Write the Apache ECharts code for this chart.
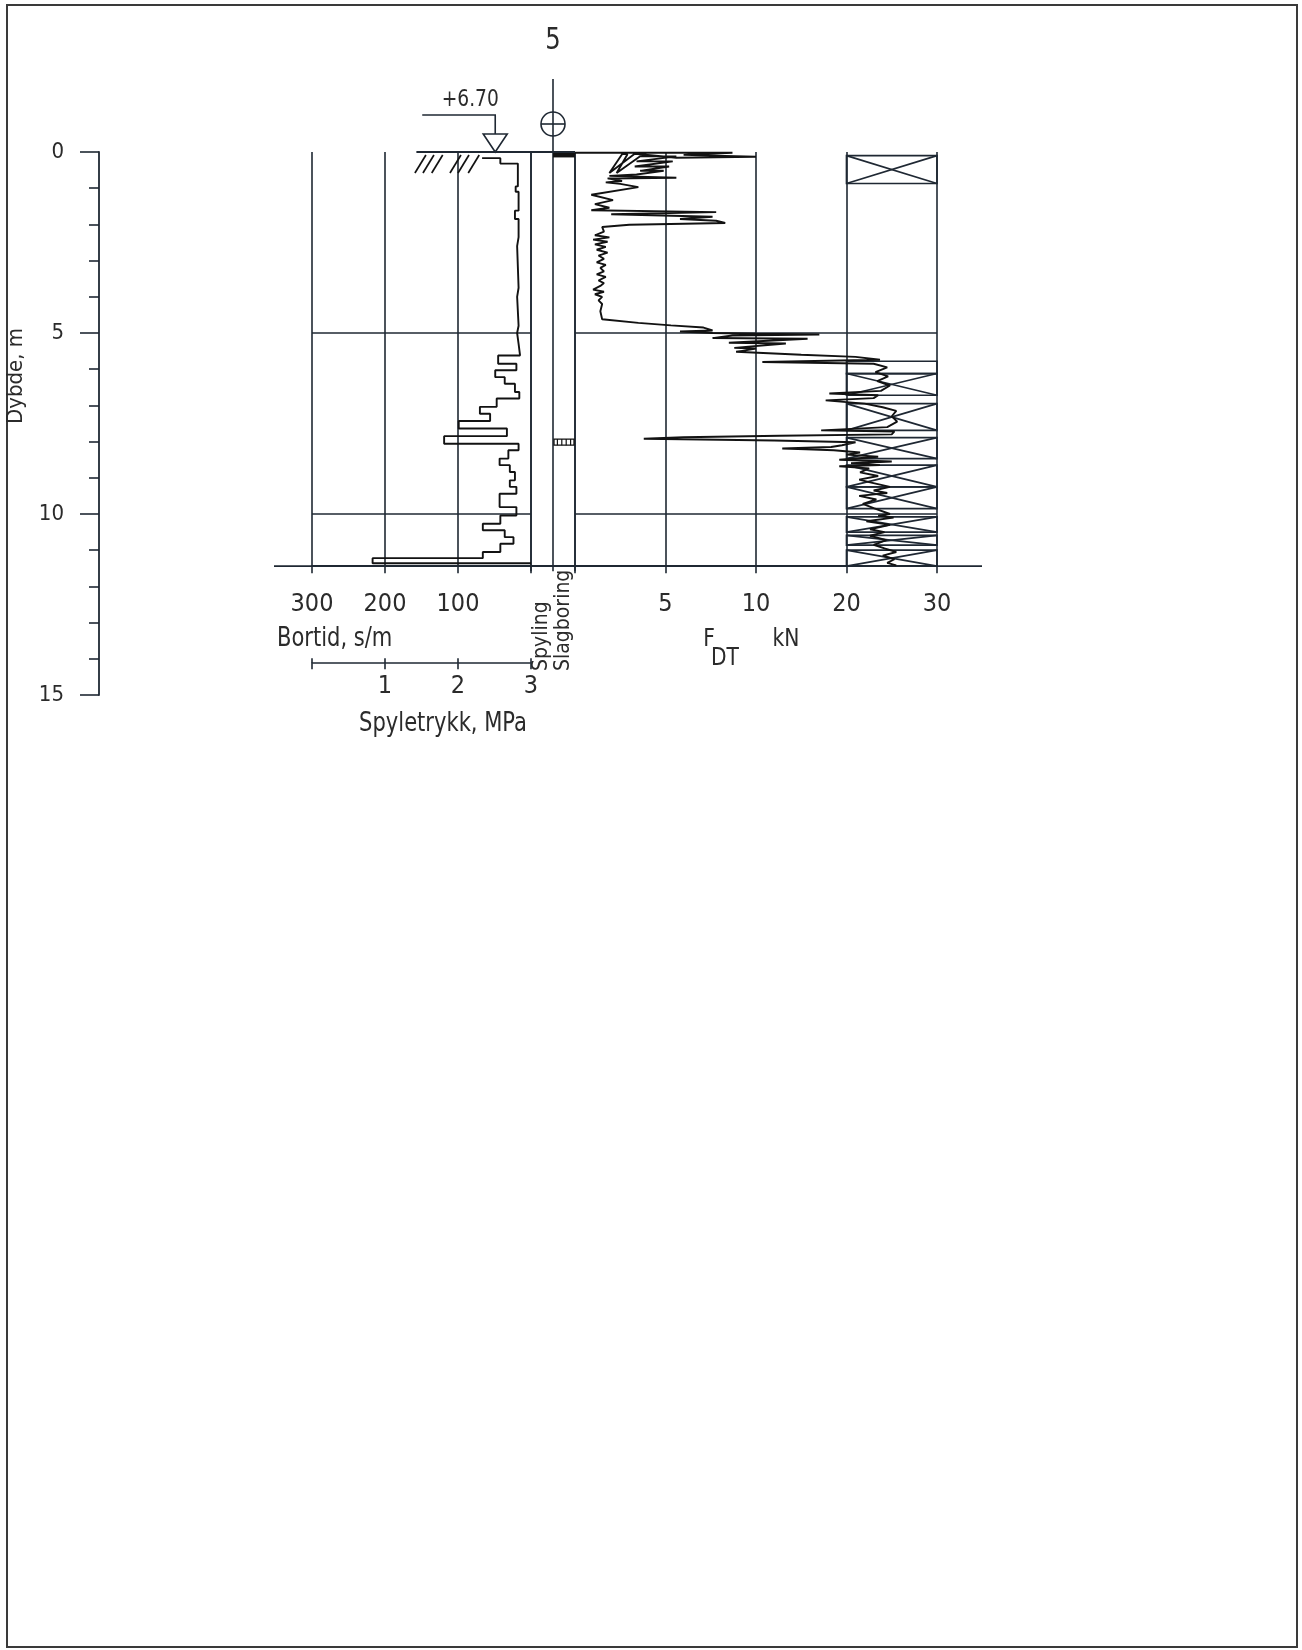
<!DOCTYPE html>
<html>
<head>
<meta charset="utf-8">
<title>Totalsondering 5</title>
<script src="https://cdn.jsdelivr.net/npm/echarts@6.0.0/dist/echarts.min.js"></script>
<style>
  html, body { margin: 0; padding: 0; background: #fff; }
  #chart { width: 1302px; height: 1650px; }
</style>
</head>
<body>
<div id="chart"></div>
<script>
const FONT = "'Liberation Sans Narrow', 'DejaVu Sans Condensed', 'Liberation Sans', sans-serif"
const INK = '#1f2833'
const PEN = '#121212'
const TXT = '#2b2b2b'

const BOREHOLE = '5'
const ELEVATION = '+6.70'
const END_DEPTH = 11.44
const DEPTH_MAX = 15
const DEPTH_GRID = [5, 10]
const GROUND_FROM = 157
const WATER_MARK_AT = 49
const TERRAIN_TICKS = [159, 148, 136, 111, 100, 86]
const COLUMN_FROM = 20
const COLUMN_TO = 30

// bortid (s/m), step curve: value holds from this depth to the next
const bortidDepth = [0.17, 0.17, 0.32, 0.95, 1.10, 1.62, 1.85, 2.35, 2.60, 3.75, 4.00, 4.80, 5.00, 5.30, 5.62,
  5.85, 6.03, 6.22, 6.40, 6.63, 6.81, 7.04, 7.23, 7.43, 7.64, 7.85, 8.06, 8.24, 8.47, 8.65,
  8.84, 9.07, 9.25, 9.44, 9.81, 10.04, 10.27, 10.45, 10.64, 10.82, 11.05, 11.22, 11.36]
const bortidValue = [67, 42, 18, 21, 17, 22, 17, 19, 17, 19, 17, 19, 17, 15, 45,
  20, 49, 36, 22, 16, 47, 70, 56, 99, 33, 119, 17, 31, 43, 29,
  22, 29, 20, 43, 20, 42, 66, 36, 24, 42, 66, 217, 0]

// slagboring column: [from, to, kind] kind 1 = filled, 2 = hatched
const slagboring = [[0, 0.15, 1], [7.93, 8.10, 2]]

// 20-30 kN column boxes
const boxTop = [0.10, 5.78, 6.12, 6.95, 7.89, 8.65, 9.25, 10.08, 10.59, 11.00]
const boxBottom = [0.87, 6.12, 6.72, 7.69, 8.47, 9.25, 9.85, 10.50, 10.86, 11.44]
const boxCross = [1, 0, 1, 1, 1, 1, 1, 1, 1, 1]

// F_DT trace [kN, depth]
const fdtTrace = [
  [0, 0.02], [8.7, 0.02], [6.0, 0.08], [10.0, 0.13], [5.6, 0.16],
  [3.3, 0.05], [1.9, 0.58], [2.6, 0.06], [2.9, 0.06], [2.3, 0.58],
  [3.6, 0.12], [5.6, 0.12], [3.4, 0.26], [5.4, 0.26], [3.3, 0.40], [5.2, 0.40], [3.6, 0.52], [4.9, 0.52],
  [3.4, 0.62], [1.9, 0.66], [5.6, 0.71], [1.8, 0.73],
  [2.6, 0.80], [1.7, 0.84], [2.5, 0.88], [3.5, 0.97], [0.9, 1.18], [2.1, 1.33], [1.1, 1.44], [1.9, 1.54],
  [0.9, 1.61], [7.8, 1.66], [2.0, 1.72], [7.6, 1.79], [5.8, 1.85], [7.8, 1.90], [8.3, 1.96], [3.0, 2.01],
  [1.5, 2.07], [1.6, 2.20],
  [1.1, 2.30], [1.9, 2.36], [1.0, 2.42], [1.8, 2.48], [1.1, 2.55], [1.7, 2.62], [1.2, 2.70], [1.8, 2.78],
  [1.3, 2.86], [1.6, 2.95], [1.2, 3.05], [1.7, 3.12], [1.4, 3.20], [1.6, 3.30], [1.2, 3.38], [1.7, 3.45],
  [1.3, 3.55], [1.6, 3.62], [1.4, 3.70], [1.0, 3.80], [1.6, 3.86], [1.1, 3.93], [1.5, 4.00], [1.3, 4.10],
  [1.5, 4.20], [1.4, 4.40], [1.5, 4.62],
  [3.5, 4.72], [5.3, 4.79], [7.1, 4.85], [7.6, 4.93], [5.8, 4.96], [7.6, 5.00], [10.0, 5.02], [17.0, 5.04],
  [8.7, 5.07], [7.6, 5.14], [15.7, 5.16], [8.5, 5.27], [13.3, 5.29], [8.8, 5.41], [10.0, 5.43], [8.9, 5.52],
  [15.0, 5.60], [21.0, 5.66], [23.7, 5.74], [10.7, 5.80], [23.0, 5.85],
  [24.5, 5.95], [23.2, 6.08], [24.6, 6.20], [23.4, 6.33], [24.8, 6.45], [23.8, 6.60], [18.1, 6.67], [23.5, 6.72],
  [23.0, 6.80], [17.7, 6.86], [22.0, 6.95], [24.0, 7.05], [25.5, 7.15], [25.0, 7.30], [25.6, 7.45], [24.5, 7.60],
  [17.2, 7.69], [25.3, 7.72], [25.0, 7.80], [12.6, 7.84], [6.0, 7.88], [3.8, 7.92], [8.0, 7.95], [12.0, 7.97],
  [21.0, 8.02], [19.5, 8.10], [18.3, 8.15], [12.9, 8.19], [15.5, 8.21], [18.6, 8.24], [21.5, 8.30], [20.0, 8.36],
  [23.5, 8.42], [19.2, 8.50], [25.0, 8.55], [20.5, 8.60], [23.7, 8.65], [19.2, 8.68], [22.5, 8.74], [21.5, 8.85],
  [23.5, 8.95], [21.4, 9.05], [22.5, 9.12], [24.8, 9.25], [23.0, 9.35], [24.5, 9.42], [21.4, 9.50], [23.3, 9.60],
  [21.8, 9.72], [23.0, 9.84], [24.8, 10.00], [23.5, 10.05], [25.2, 10.10], [22.2, 10.20], [24.8, 10.30],
  [22.6, 10.42], [24.2, 10.50], [22.6, 10.60], [24.4, 10.72], [23.0, 10.85], [24.2, 10.95], [25.5, 11.05],
  [24.0, 11.15], [25.3, 11.25], [24.5, 11.35], [25.5, 11.42]
]

// force axis: 0-10 kN full scale, above 10 kN half scale
function fdtScale(kn) { return kn <= 10 ? kn : 10 + (kn - 10) / 2 }
function fdtLabel(u) { return u <= 10 ? u : 10 + (u - 10) * 2 }

let bortidLine = []
for (let i = 0; i < bortidValue.length; i++) {
  let next = i + 1 < bortidDepth.length ? bortidDepth[i + 1] : bortidDepth[i]
  bortidLine.push([bortidValue[i], bortidDepth[i]], [bortidValue[i], next])
}

const TOP = 152
const PX_PER_M = 36.2
const PANEL_H = END_DEPTH * PX_PER_M

const gridLine = { show: true, lineStyle: { color: INK, width: 1.6 } }
const axisText = { color: TXT, fontFamily: FONT, fontSize: 25 }
const bottomLine = { onZero: false, lineStyle: { color: INK, width: 1.8 } }
const noAxis = { axisLine: { show: false, onZero: false }, axisTick: { show: false }, axisLabel: { show: false }, splitLine: { show: false } }
const depthLines = {
  silent: true, symbol: 'none', label: { show: false },
  lineStyle: { color: INK, width: 1.6, type: 'solid' },
  data: DEPTH_GRID.map(d => ({ yAxis: d }))
}

const myChart = echarts.init(document.getElementById('chart'))

const option = {
  animation: false,
  backgroundColor: '#fff',
  grid: [
    { left: 99, top: TOP, width: 20, height: DEPTH_MAX * PX_PER_M },
    { left: 312, top: TOP, width: 219, height: PANEL_H },
    { left: 531, top: TOP, width: 44, height: PANEL_H },
    { left: 575, top: TOP, width: 362, height: PANEL_H }
  ],
  xAxis: [
    { type: 'value', gridIndex: 0, show: false, min: 0, max: 1, axisLine: { onZero: false } },
    {
      type: 'value', gridIndex: 1, position: 'bottom', min: 0, max: 300, interval: 100, inverse: true,
      axisLine: bottomLine,
      axisTick: { length: 7, lineStyle: { color: INK, width: 1.6 } },
      axisLabel: Object.assign({ margin: 26, formatter: v => v === 0 ? '' : v }, axisText),
      splitLine: gridLine
    },
    {
      type: 'value', gridIndex: 1, position: 'bottom', offset: 97, min: 0, max: 3, interval: 1,
      axisLine: { onZero: false, lineStyle: { color: INK, width: 1.6 } },
      axisTick: { length: 6, lineStyle: { color: INK, width: 1.6 } },
      axisLabel: Object.assign({ margin: 11, formatter: v => v === 0 ? '' : v }, axisText),
      splitLine: { show: false }
    },
    {
      type: 'value', gridIndex: 1, position: 'bottom', offset: 97, min: 0, max: 3, interval: 1,
      axisLine: { show: false, onZero: false },
      axisTick: { inside: true, length: 5, lineStyle: { color: INK, width: 1.6 } },
      axisLabel: { show: false },
      splitLine: { show: false }
    },
    {
      type: 'value', gridIndex: 2, position: 'bottom', min: 0, max: 2, interval: 1,
      axisLine: bottomLine,
      axisTick: { length: 5, lineStyle: { color: INK, width: 1.6 } },
      axisLabel: { show: false },
      splitLine: gridLine
    },
    {
      type: 'value', gridIndex: 3, position: 'bottom', min: 0, max: fdtScale(30), interval: 5,
      axisLine: bottomLine,
      axisTick: { length: 7, lineStyle: { color: INK, width: 1.6 } },
      axisLabel: Object.assign({ margin: 26, formatter: u => u === 0 ? '' : fdtLabel(u) }, axisText),
      splitLine: gridLine
    }
  ],
  yAxis: [
    {
      type: 'value', gridIndex: 0, min: 0, max: DEPTH_MAX, interval: 5, inverse: true, position: 'left',
      axisLine: { show: true, onZero: false, lineStyle: { color: INK, width: 1.8 } },
      axisTick: { show: true, length: 19, lineStyle: { color: INK, width: 1.6 } },
      minorTick: { show: true, splitNumber: 5, length: 10, lineStyle: { color: INK, width: 1.6 } },
      axisLabel: Object.assign({}, axisText, { margin: 35, fontSize: 22 }),
      splitLine: { show: false }
    },
    Object.assign({ type: 'value', gridIndex: 1, min: 0, max: END_DEPTH, inverse: true }, noAxis),
    Object.assign({ type: 'value', gridIndex: 2, min: 0, max: END_DEPTH, inverse: true }, noAxis),
    Object.assign({ type: 'value', gridIndex: 3, min: 0, max: END_DEPTH, inverse: true }, noAxis)
  ],
  series: [
    {
      name: 'Bortid', type: 'line', xAxisIndex: 1, yAxisIndex: 1, data: bortidLine,
      symbol: 'none', lineStyle: { color: PEN, width: 1.9 }, z: 5,
      markLine: depthLines
    },
    {
      name: 'terreng', type: 'line', xAxisIndex: 1, yAxisIndex: 1,
      data: [[GROUND_FROM, 0], [0, 0]], symbol: 'none', lineStyle: { color: INK, width: 1.8 }
    },
    {
      name: 'skravur', type: 'custom', xAxisIndex: 1, yAxisIndex: 1,
      data: TERRAIN_TICKS.map(v => [v, 0]),
      renderItem: function(params, api) {
        let p = api.coord([api.value(0), api.value(1)])
        return {
          type: 'line',
          shape: { x1: p[0], y1: p[1] + 21, x2: p[0] + 11, y2: p[1] + 3 },
          style: { stroke: PEN, lineWidth: 1.7 }
        }
      }
    },
    {
      name: 'terreng2', type: 'line', xAxisIndex: 4, yAxisIndex: 2,
      data: [[0, 0], [2, 0]], symbol: 'none', lineStyle: { color: INK, width: 1.8 }
    },
    {
      name: 'Slagboring', type: 'custom', xAxisIndex: 4, yAxisIndex: 2,
      data: slagboring.map(s => [1, s[0], 2, s[1], s[2]]),
      renderItem: function(params, api) {
        let a = api.coord([api.value(0), api.value(1)])
        let b = api.coord([api.value(2), api.value(3)])
        let w = b[0] - a[0]
        let h = b[1] - a[1]
        if (api.value(4) === 1) {
          return { type: 'rect', shape: { x: a[0], y: a[1], width: w, height: h }, style: { fill: PEN } }
        }
        let children = [{ type: 'rect', shape: { x: a[0] + 1, y: a[1], width: w - 2, height: h },
          style: { fill: '#fff', stroke: PEN, lineWidth: 1.3 } }]
        for (let k = 1; k < 5; k++) {
          let x = a[0] + w * k / 5
          children.push({ type: 'line', shape: { x1: x, y1: a[1], x2: x, y2: b[1] }, style: { stroke: PEN, lineWidth: 1.2 } })
        }
        return { type: 'group', children: children }
      }
    },
    {
      name: 'F_DT', type: 'line', xAxisIndex: 5, yAxisIndex: 3,
      data: fdtTrace.map(p => [fdtScale(p[0]), p[1]]),
      symbol: 'none', lineStyle: { color: PEN, width: 1.9 }, z: 5,
      markLine: depthLines
    },
    {
      name: 'kolonne', type: 'custom', xAxisIndex: 5, yAxisIndex: 3,
      data: boxTop.map((t, i) => [fdtScale(COLUMN_FROM), t, fdtScale(COLUMN_TO), boxBottom[i], boxCross[i]]),
      renderItem: function(params, api) {
        let a = api.coord([api.value(0), api.value(1)])
        let b = api.coord([api.value(2), api.value(3)])
        let style = { stroke: INK, lineWidth: 1.7, fill: 'none' }
        let children = [{ type: 'rect', shape: { x: a[0], y: a[1], width: b[0] - a[0], height: b[1] - a[1] }, style: style }]
        if (api.value(4)) {
          children.push({ type: 'line', shape: { x1: a[0], y1: a[1], x2: b[0], y2: b[1] }, style: style })
          children.push({ type: 'line', shape: { x1: a[0], y1: b[1], x2: b[0], y2: a[1] }, style: style })
        }
        return { type: 'group', children: children }
      }
    }
  ]
}

myChart.setOption(option)

let ground = myChart.convertToPixel({ gridIndex: 1 }, [WATER_MARK_AT, 0])
let hole = myChart.convertToPixel({ gridIndex: 2 }, [1, 0])
let baseL = myChart.convertToPixel({ gridIndex: 1 }, [300, END_DEPTH])
let baseR = myChart.convertToPixel({ gridIndex: 3 }, [fdtScale(30), END_DEPTH])
let gx = ground[0], gy = ground[1]
let hx = hole[0], hy = hole[1]

const stroke = { stroke: INK, lineWidth: 1.6, fill: 'none' }
function label(text, x, y, size, extra, align) {
  return Object.assign({
    type: 'text', x: x, y: y, scaleX: 0.9,
    style: { text: text, fill: TXT, font: size + 'px ' + FONT, align: align || 'center', verticalAlign: 'middle' }
  }, extra || {})
}

myChart.setOption({
  graphic: [
    { type: 'rect', shape: { x: 7, y: 5, width: 1290, height: 1642 }, style: { stroke: '#3a3a3a', lineWidth: 2, fill: 'none' } },
    { type: 'line', shape: { x1: baseL[0] - 38, y1: baseL[1], x2: baseR[0] + 45, y2: baseR[1] }, style: { stroke: INK, lineWidth: 1.8 } },
    { type: 'polygon', shape: { points: [[gx - 12, gy - 18], [gx + 12, gy - 18], [gx, gy]] }, style: { stroke: INK, lineWidth: 1.6, fill: '#fff' } },
    { type: 'polyline', shape: { points: [[gx, gy - 18], [gx, gy - 37], [gx - 73, gy - 37]] }, style: stroke },
    label(ELEVATION, gx - 25, gy - 52, 23),
    { type: 'line', shape: { x1: hx, y1: hy, x2: hx, y2: hy - 73 }, style: stroke },
    { type: 'circle', shape: { cx: hx, cy: hy - 28, r: 12 }, style: { stroke: INK, lineWidth: 1.6, fill: '#fff' } },
    { type: 'line', shape: { x1: hx, y1: hy - 40, x2: hx, y2: hy - 16 }, style: stroke },
    { type: 'line', shape: { x1: hx - 12, y1: hy - 28, x2: hx + 12, y2: hy - 28 }, style: stroke },
    label(BOREHOLE, hx, hy - 111, 30),
    label('Dybde, m', 16, 376, 22, { rotation: Math.PI / 2, scaleX: 1, scaleY: 1 }),
    label('Bortid, s/m', 277, 639, 26, null, 'left'),
    label('Spyletrykk, MPa', 443, 724, 26),
    { type: 'text', x: 542, y: 671, rotation: Math.PI / 2,
      style: { text: 'Spyling', fill: TXT, font: '21px ' + FONT, align: 'left', verticalAlign: 'middle' } },
    { type: 'text', x: 564, y: 671, rotation: Math.PI / 2,
      style: { text: 'Slagboring', fill: TXT, font: '21px ' + FONT, align: 'left', verticalAlign: 'middle' } },
    label('F', 709, 639, 25),
    label('DT', 725, 658, 25),
    label('kN', 786, 639, 25)
  ]
})
</script>
</body>
</html>
